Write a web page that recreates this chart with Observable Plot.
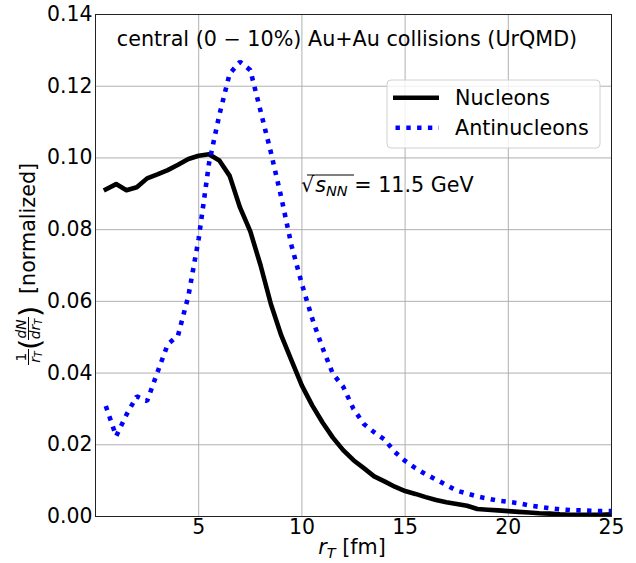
<!DOCTYPE html>
<html>
<head>
<meta charset="utf-8">
<script src="https://cdn.jsdelivr.net/npm/d3@7"></script>
<script src="https://cdn.jsdelivr.net/npm/@observablehq/plot@0.6"></script>
<style>
  html, body { margin: 0; padding: 0; background: #fff; }
  svg text { font-family: "DejaVu Sans", sans-serif; }
</style>
</head>
<body>
<div id="chart"></div>
<script>
// ---- data ----
const nucleonR = [0.4, 1.0, 1.5, 2.0, 2.5, 3.0, 3.5, 4.0, 4.5, 5.0, 5.5, 6.0, 6.5, 7.0, 7.5, 8.0, 8.5, 9.0, 9.5, 10.0,
  10.5, 11.0, 11.5, 12.0, 12.5, 13.0, 13.5, 14.0, 14.5, 15.0, 15.5, 16.0, 16.5, 17.0, 17.5, 18.0, 18.5, 19.0, 19.5, 20.0,
  20.5, 21.0, 21.5, 22.0, 22.5, 23.0, 23.5, 24.0, 24.5, 25.0];
const nucleonV = [0.0909, 0.0927, 0.0910, 0.0918, 0.0943, 0.0954, 0.0966, 0.0981, 0.0997, 0.1006, 0.1010, 0.0993, 0.0950, 0.0862, 0.0795, 0.0700, 0.0592, 0.0505, 0.0435, 0.0365,
  0.0310, 0.0262, 0.0220, 0.0185, 0.0157, 0.0135, 0.0112, 0.0098, 0.0083, 0.0071, 0.0063, 0.0054, 0.0046, 0.0040, 0.0035, 0.0030, 0.0021, 0.0019, 0.0017, 0.0015,
  0.0013, 0.0011, 0.0009, 0.0008, 0.0006, 0.0005, 0.0005, 0.0005, 0.0005, 0.0006];
const antiR = [0.5, 1.0, 1.5, 2.0, 2.5, 3.0, 3.5, 4.0, 4.5, 5.0, 5.5, 6.0, 6.5, 7.0, 7.5, 8.0, 8.5, 9.0, 9.5, 10.0,
  10.5, 11.0, 11.5, 12.0, 12.5, 13.0, 13.5, 14.0, 14.5, 15.0, 15.5, 16.0, 16.5, 17.0, 17.5, 18.0, 18.5, 19.0, 19.5, 20.0,
  20.5, 21.0, 21.5, 22.0, 22.5, 23.0, 23.5, 24.0, 24.5, 25.0];
const antiV = [0.0308, 0.0224, 0.0284, 0.0335, 0.0322, 0.0402, 0.0480, 0.0505, 0.0615, 0.0775, 0.0985, 0.1120, 0.1235, 0.1268, 0.1245, 0.1130, 0.1015, 0.0890, 0.0755, 0.0648,
  0.0552, 0.0470, 0.0398, 0.0362, 0.0300, 0.0258, 0.0235, 0.0215, 0.0180, 0.0155, 0.0135, 0.0118, 0.0103, 0.0088, 0.0072, 0.0064, 0.0056, 0.0050, 0.0044, 0.0041,
  0.0037, 0.0031, 0.0027, 0.0023, 0.0020, 0.0018, 0.0017, 0.0016, 0.0015, 0.0015];
const xTicks = [5, 10, 15, 20, 25];
const yTicks = [0, 0.02, 0.04, 0.06, 0.08, 0.10, 0.12, 0.14];
const seriesNames = ["Nucleons", "Antinucleons"];

const nucleons = nucleonR.map((r, i) => ({r, v: nucleonV[i]}));
const antinucleons = antiR.map((r, i) => ({r, v: antiV[i]}));

const W = 636, H = 563;
const FS = 20.7;
const chart = Plot.plot({
  width: W, height: H,
  marginLeft: 95, marginRight: 25, marginTop: 14, marginBottom: 47,
  style: {fontFamily: "DejaVu Sans", fontSize: FS + "px", background: "#fff", color: "#000"},
  x: {domain: [0, 25], ticks: xTicks, label: null},
  y: {domain: [0, 0.14], ticks: yTicks, label: null},
  marks: [
    Plot.gridX(xTicks, {stroke: "#b0b0b0", strokeOpacity: 1, strokeWidth: 1}),
    Plot.gridY(yTicks, {stroke: "#b0b0b0", strokeOpacity: 1, strokeWidth: 1}),
    Plot.axisX(xTicks, {tickSize: 0, tickPadding: 3.5, fontSize: 20.4, label: null}),
    Plot.axisY(yTicks, {tickSize: 0, tickPadding: 3, fontSize: 20.4, label: null, tickFormat: d3.format(".2f")}),
    Plot.line(nucleons, {x: "r", y: "v", stroke: "#000", strokeWidth: 4.6, strokeLinecap: "butt", clip: true}),
    Plot.line(antinucleons, {x: "r", y: "v", stroke: "#0000ff", strokeWidth: 4.6, strokeLinecap: "butt", strokeLinejoin: "miter", strokeDasharray: "4.4,6.4", clip: true}),
    Plot.frame({stroke: "#222", strokeWidth: 1})
  ]
});
document.getElementById("chart").appendChild(chart);

const svg = d3.select(chart);
const FONT = "DejaVu Sans";
const txt = (sel) => sel.append("text").attr("font-family", FONT).attr("text-anchor", "start").attr("fill", "#000");

// Title inside the plot
txt(svg).attr("x", 347).attr("y", 46).attr("text-anchor", "middle")
  .attr("font-size", FS)
  .text("central (0 \u2212 10%) Au+Au collisions (UrQMD)");

// Energy annotation
const ann = txt(svg).attr("x", 301).attr("y", 192).attr("font-size", FS);
ann.append("tspan").text("\u221A");
ann.append("tspan").attr("font-style", "italic").attr("dx", 1).text("s");
ann.append("tspan").attr("font-style", "italic").attr("font-size", 14.5).attr("dy", 4).text("NN");
ann.append("tspan").attr("dy", -4).text(" = 11.5 GeV");
svg.append("line").attr("x1", 307).attr("x2", 354).attr("y1", 175).attr("y2", 175)
  .attr("stroke", "#000").attr("stroke-width", 1);

// Legend
const lg = svg.append("g");
lg.append("rect").attr("x", 387).attr("y", 80).attr("width", 213).attr("height", 68).attr("rx", 4)
  .attr("fill", "#fff").attr("fill-opacity", 0.8).attr("stroke", "#d0d0d0");
lg.append("line").attr("x1", 393).attr("x2", 439).attr("y1", 97.7).attr("y2", 97.7)
  .attr("stroke", "#000").attr("stroke-width", 4.6);
lg.append("line").attr("x1", 395.5).attr("x2", 439).attr("y1", 127.7).attr("y2", 127.7)
  .attr("stroke", "#0000ff").attr("stroke-width", 4.6).attr("stroke-dasharray", "4.4,6.4");
txt(lg).attr("x", 455).attr("y", 104.5).attr("font-size", FS).text(seriesNames[0]);
txt(lg).attr("x", 455).attr("y", 135).attr("font-size", FS).text(seriesNames[1]);

// X axis label: r_T [fm]
const xl = txt(svg).attr("x", 352).attr("y", 554).attr("text-anchor", "middle").attr("font-size", FS);
xl.append("tspan").attr("font-style", "italic").text("r");
xl.append("tspan").attr("font-style", "italic").attr("font-size", 14.5).attr("dy", 4).text("T");
xl.append("tspan").attr("dy", -4).text(" [fm]");

// Y axis label: 1/r_T (dN/dr_T) [normalized]
const yl = svg.append("g").attr("transform", "translate(35,367) rotate(-90)");
const fs = 13.8;
txt(yl).attr("x", 10).attr("y", -9.5).attr("text-anchor", "middle").attr("font-size", fs).text("1");
yl.append("line").attr("x1", 2).attr("x2", 18).attr("y1", -6.5).attr("y2", -6.5).attr("stroke", "#000").attr("stroke-width", 1);
const den1 = txt(yl).attr("x", 10).attr("y", 5).attr("text-anchor", "middle").attr("font-size", fs);
den1.append("tspan").attr("font-style", "italic").text("r");
den1.append("tspan").attr("font-style", "italic").attr("font-size", 9.8).attr("dy", 2).text("T");
txt(yl).attr("x", 17).attr("y", 4.5).attr("font-size", 29).text("(");
const num2 = txt(yl).attr("x", 38).attr("y", -9.5).attr("text-anchor", "middle").attr("font-size", fs);
num2.append("tspan").attr("font-style", "italic").text("dN");
yl.append("line").attr("x1", 27).attr("x2", 50).attr("y1", -6.5).attr("y2", -6.5).attr("stroke", "#000").attr("stroke-width", 1);
const den2 = txt(yl).attr("x", 38).attr("y", 5).attr("text-anchor", "middle").attr("font-size", fs);
den2.append("tspan").attr("font-style", "italic").text("dr");
den2.append("tspan").attr("font-style", "italic").attr("font-size", 9.8).attr("dy", 2).text("T");
txt(yl).attr("x", 50).attr("y", 4.5).attr("font-size", 29).text(")");
txt(yl).attr("x", 73).attr("y", 0).attr("font-size", FS).text("[normalized]");
</script>
</body>
</html>
